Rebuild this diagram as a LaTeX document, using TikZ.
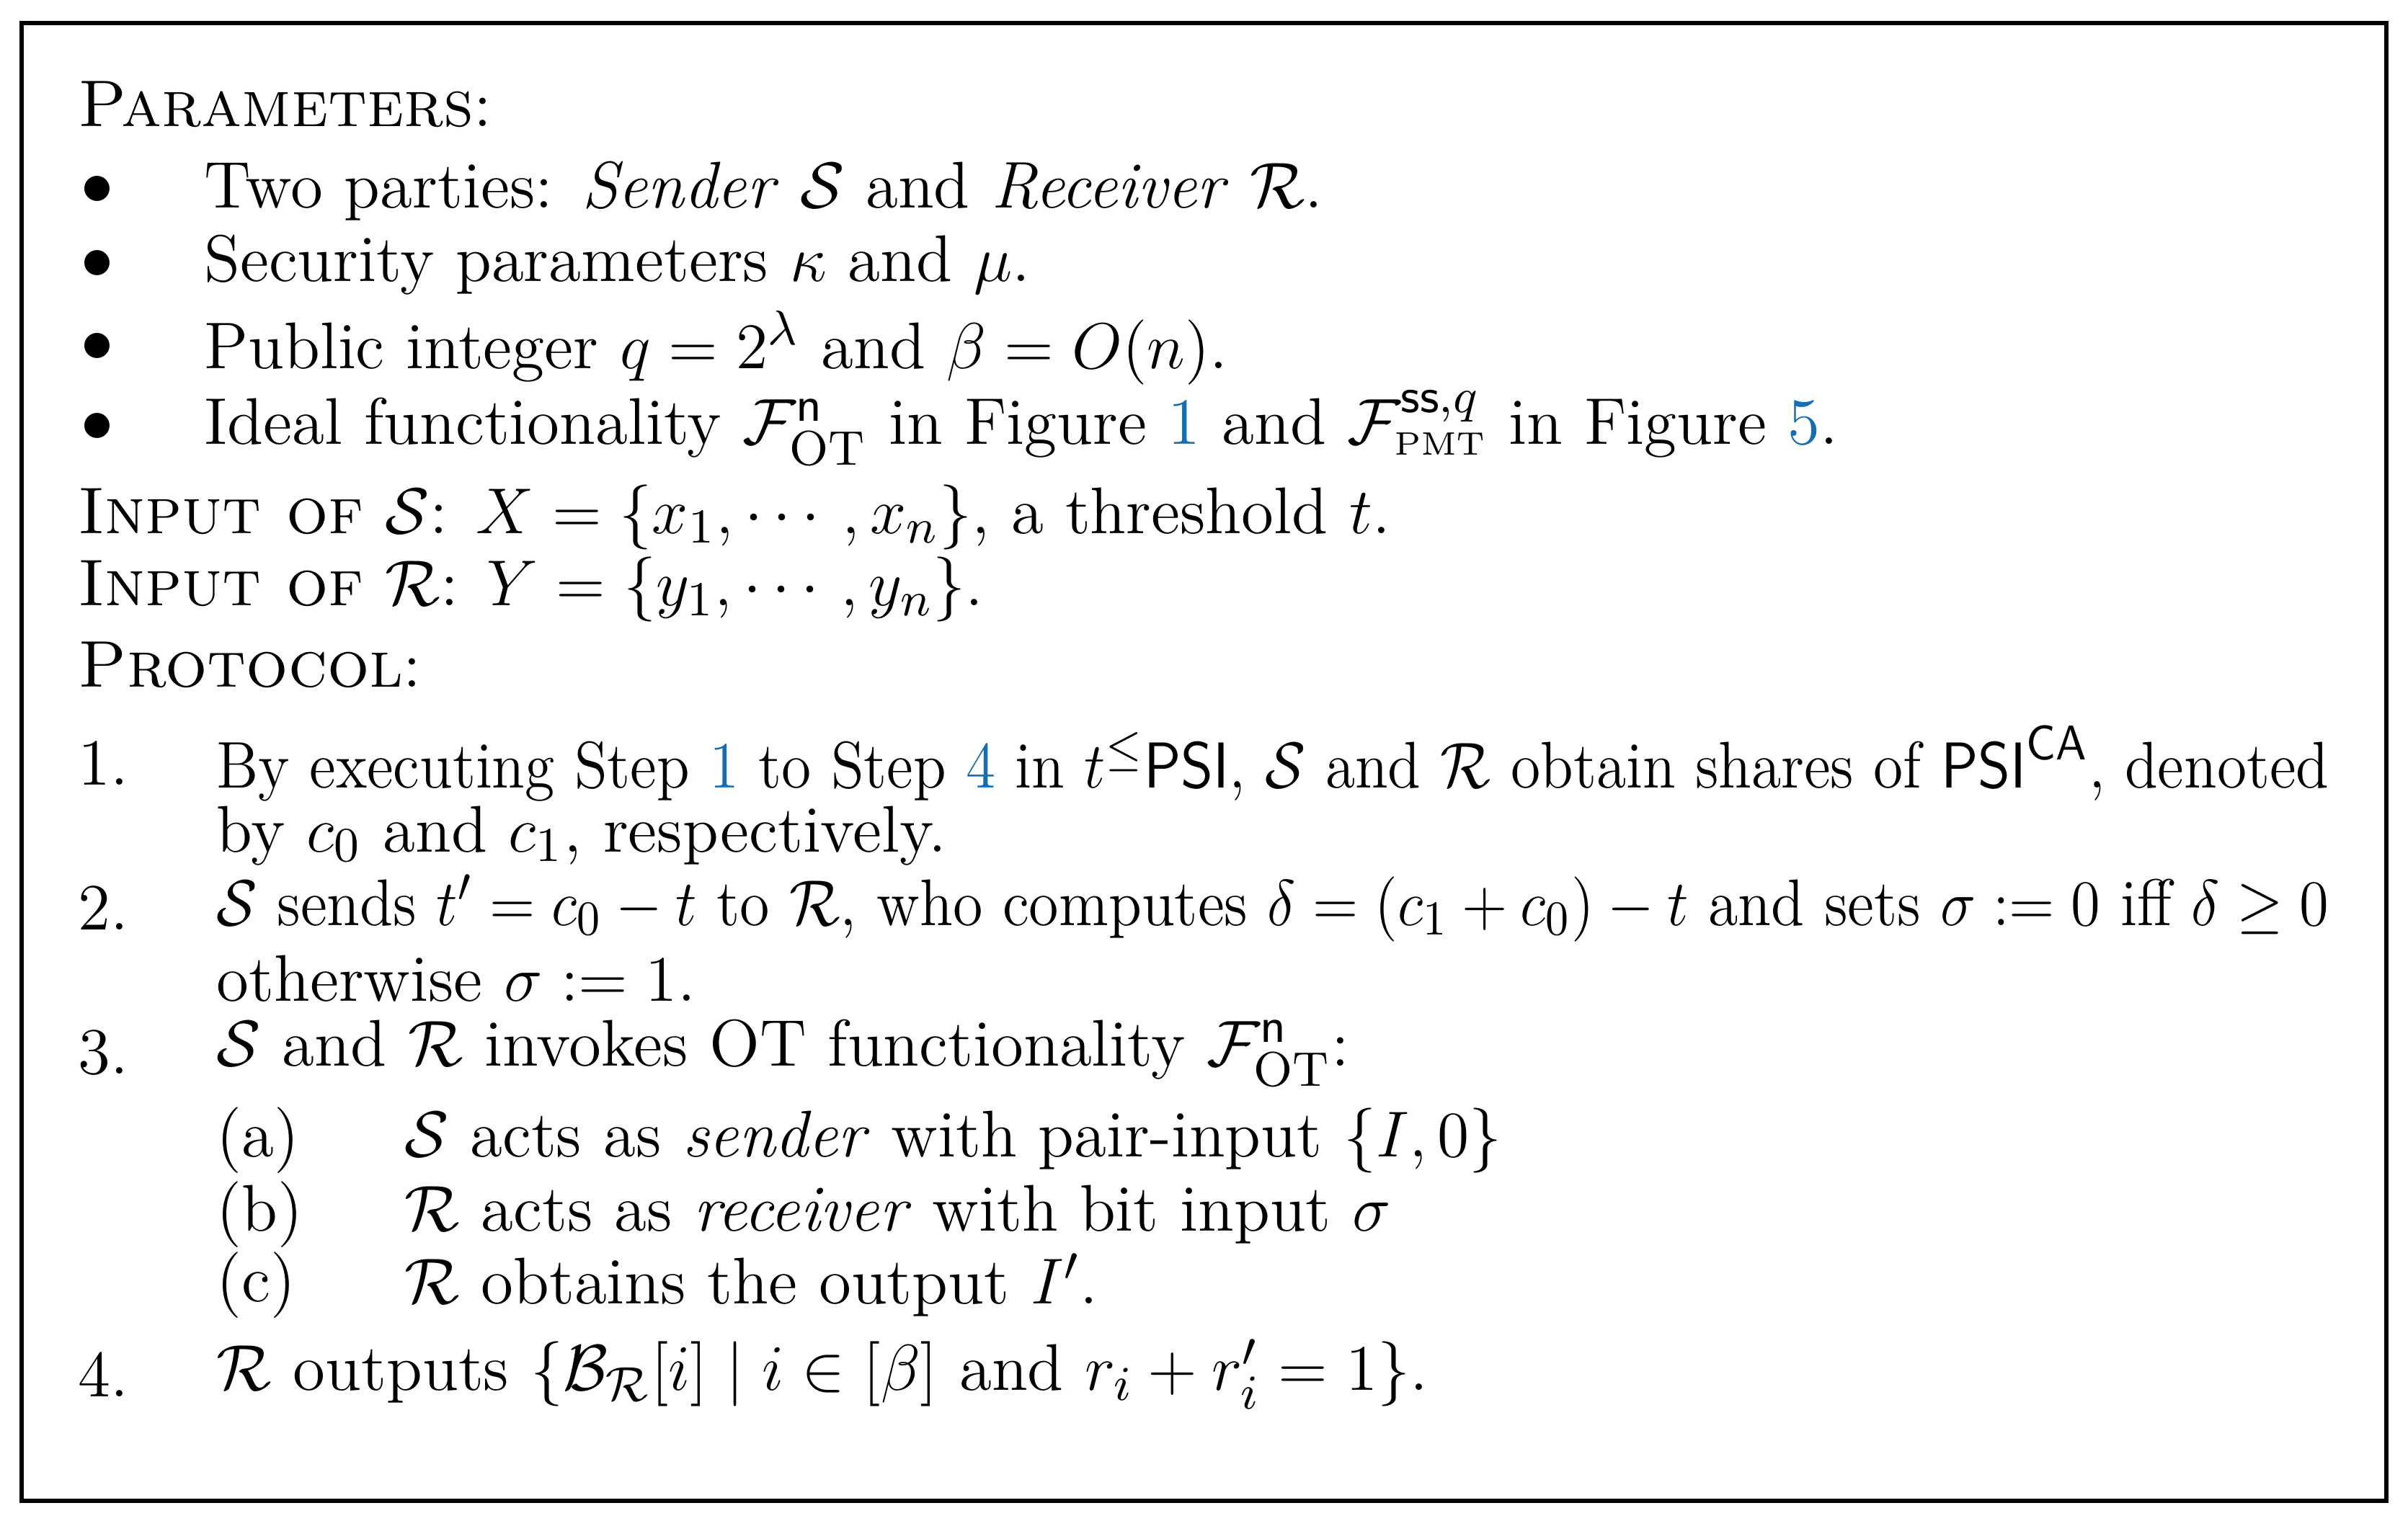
\documentclass[tikz,border=0pt]{standalone}
\usepackage{amsmath,amssymb,graphicx}
\definecolor{lnk}{RGB}{20,110,180}
\newcommand{\lk}[1]{\textcolor{lnk}{#1}}
\newcommand{\FOT}{\mathcal{F}_{\mathrm{OT}}^{\mathsf{n}}}
\newcommand{\fitw}[1]{\resizebox{13.72cm}{\height}{#1}}
\begin{document}
\begin{tikzpicture}[x=1cm,y=-1cm,
  t/.style={anchor=west,inner sep=0pt,font=\fontsize{12.2}{15}\selectfont}]
\useasboundingbox (0,0) rectangle (15.64,9.88);
\draw[line width=0.8pt] (0.14,0.15) rectangle (15.50,9.75);
\node[t] (p) at (0.50,0.68) {\textsc{Parameters}:};
\foreach \yy/\tx [count=\i] in {1.24/{Two parties: \textit{Sender} $\mathcal{S}$ and \textit{Receiver} $\mathcal{R}$.},
  1.72/{Security parameters $\kappa$ and $\mu$.},
  2.26/{Public integer $q=2^{\lambda}$ and $\beta=O(n)$.},
  2.78/{Ideal functionality $\FOT$ in Figure \lk{1} and $\mathcal{F}_{\scriptscriptstyle\mathrm{PMT}}^{\mathsf{ss},q}$ in Figure \lk{5}.}}
{ \node[t] (b\i) at (0.52,\yy) {$\bullet$}; \node[t] (bt\i) at (1.32,\yy) {\tx}; }
\node[t] (is) at (0.50,3.36) {\textsc{Input of} $\mathcal{S}$: $X=\{x_1,\cdots,x_n\}$, a threshold $t$.};
\node[t] (ir) at (0.50,3.83) {\textsc{Input of} $\mathcal{R}$: $Y=\{y_1,\cdots,y_n\}$.};
\node[t] (pr) at (0.50,4.32) {\textsc{Protocol}:};
\node[t] (n1) at (0.50,4.96) {1.};
\node[t] (s1) at (1.40,4.96) {\fitw{By executing Step \lk{1} to Step \lk{4} in $t^{\leq}\mathsf{PSI}$, $\mathcal{S}$ and $\mathcal{R}$ obtain shares of $\mathsf{PSI}^{\mathsf{CA}}$, denoted}};
\node[t] (s1b) at (1.40,5.43) {by $c_0$ and $c_1$, respectively.};
\node[t] (n2) at (0.50,5.90) {2.};
\node[t] (s2) at (1.40,5.90) {\fitw{$\mathcal{S}$ sends $t'=c_0-t$ to $\mathcal{R}$, who computes $\delta=(c_1+c_0)-t$ and sets $\sigma:=0$ iff $\delta\geq 0$}};
\node[t] (s2b) at (1.40,6.36) {otherwise $\sigma:=1$.};
\node[t] (n3) at (0.50,6.84) {3.};
\node[t] (s3) at (1.40,6.84) {$\mathcal{S}$ and $\mathcal{R}$ invokes OT functionality $\FOT$:};
\node[t] (la) at (1.40,7.41) {(a)};
\node[t] (ta) at (2.62,7.41) {$\mathcal{S}$ acts as \textit{sender} with pair-input $\{I,0\}$};
\node[t] (lb) at (1.40,7.89) {(b)};
\node[t] (tb) at (2.62,7.89) {$\mathcal{R}$ acts as \textit{receiver} with bit input $\sigma$};
\node[t] (lc) at (1.40,8.35) {(c)};
\node[t] (tc) at (2.62,8.35) {$\mathcal{R}$ obtains the output $I'$.};
\node[t] (n4) at (0.50,8.93) {4.};
\node[t] (s4) at (1.40,8.93) {$\mathcal{R}$ outputs $\{\mathcal{B}_{\mathcal{R}}[i]\mid i\in[\beta]$ and $r_i+r'_i=1\}$.};
\end{tikzpicture}
\end{document}
